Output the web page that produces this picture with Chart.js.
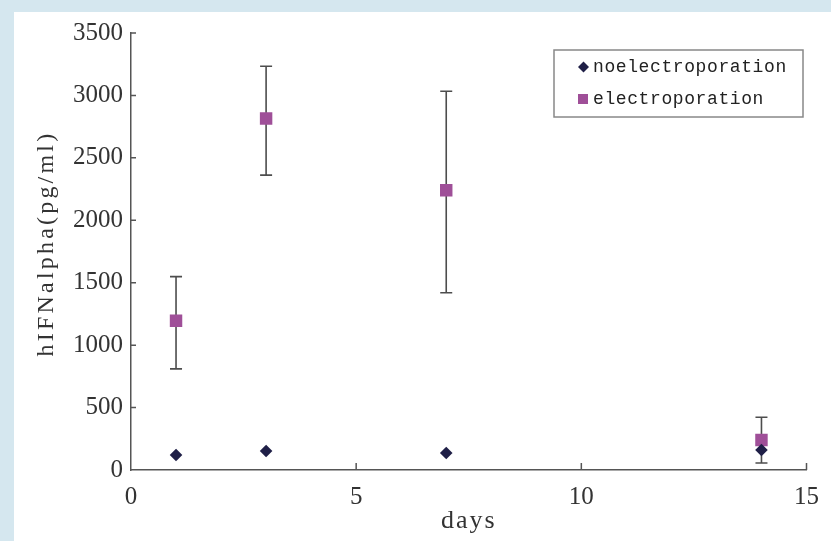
<!DOCTYPE html>
<html><head><meta charset="utf-8">
<script src="https://cdn.jsdelivr.net/npm/chart.js@4/dist/chart.umd.min.js"></script>
<style>
html,body{margin:0;padding:0;background:#d5e7ef;}
#wrap{position:relative;width:831px;height:541px;background:#d5e7ef;overflow:hidden;}
#inner{position:absolute;left:14px;top:12px;right:0;bottom:0;background:#fff;}
canvas{position:absolute;left:0;top:0;}
</style></head><body>
<div id="wrap"><div id="inner"></div><canvas id="c" width="831" height="541"></canvas></div>
<script>
// ---- data ----
const days = [1, 3, 7, 14];
const noElectro = [120, 152, 136, 160];
const electro = [1195, 2815, 2240, 240];
const electroLow = [810, 2362, 1420, 56];
const electroHigh = [1549, 3234, 3034, 422];
const seriesNames = ['noelectroporation', 'electroporation'];
const yTickValues = [0, 500, 1000, 1500, 2000, 2500, 3000, 3500];
const xTickValues = [0, 5, 10, 15];
const xTitle = 'days';
const yTitle = 'hIFNalpha(pg/ml)';

const AXIS = '#555555';
const TXT = '#333333';
const NAVY = '#1f1f47';
const PURPLE = '#9f4f98';

const errorBars = {
  id: 'errorBars',
  beforeDatasetsDraw(chart) {
    const {ctx, scales: {x, y}} = chart;
    ctx.save();
    ctx.strokeStyle = '#4d4d4d';
    ctx.lineWidth = 1.6;
    days.forEach((d, i) => {
      const px = x.getPixelForValue(d);
      const lo = y.getPixelForValue(electroLow[i]);
      const hi = y.getPixelForValue(electroHigh[i]);
      ctx.beginPath();
      ctx.moveTo(px, lo); ctx.lineTo(px, hi);
      ctx.moveTo(px - 6, lo); ctx.lineTo(px + 6, lo);
      ctx.moveTo(px - 6, hi); ctx.lineTo(px + 6, hi);
      ctx.stroke();
    });
    ctx.restore();
  }
};

const inwardTicks = {
  id: 'inwardTicks',
  afterDraw(chart) {
    const {ctx, scales: {x, y}, chartArea: a} = chart;
    ctx.save();
    ctx.strokeStyle = AXIS;
    ctx.lineWidth = 1.5;
    ctx.beginPath();
    yTickValues.forEach(v => {
      if (v === 0) return;
      const py = y.getPixelForValue(v);
      ctx.moveTo(a.left, py); ctx.lineTo(a.left + 5, py);
    });
    xTickValues.forEach(v => {
      if (v === 0) return;
      const px = x.getPixelForValue(v);
      ctx.moveTo(px, a.bottom); ctx.lineTo(px, a.bottom - 7);
    });
    ctx.stroke();
    ctx.restore();
  }
};

const spacedTitles = {
  id: 'spacedTitles',
  beforeDraw(chart) {
    const patch = (scale, sp, dy) => {
      if (scale._spPatched) return;
      const orig = scale.drawTitle.bind(scale);
      scale.drawTitle = function () {
        const ctx = this.ctx;
        ctx.save(); ctx.letterSpacing = sp; ctx.translate(0, dy); orig(); ctx.restore();
      };
      scale._spPatched = true;
    };
    patch(chart.scales.y, '3.2px', -8);
    patch(chart.scales.x, '2px', 0);
  }
};

const boxLegend = {
  id: 'boxLegend',
  afterDraw(chart) {
    const ctx = chart.ctx;
    const bx = 554, by = 50, bw = 249, bh = 67;
    ctx.save();
    ctx.fillStyle = '#ffffff';
    ctx.fillRect(bx, by, bw, bh);
    ctx.strokeStyle = '#888888';
    ctx.lineWidth = 1.5;
    ctx.strokeRect(bx, by, bw, bh);
    const rows = [67, 99];
    chart.data.datasets.forEach((ds, i) => {
      const cy = rows[i];
      ctx.fillStyle = ds.backgroundColor;
      ctx.beginPath();
      if (ds.pointStyle === 'rectRot') {
        const r = 5.5, cx = 583.5;
        ctx.moveTo(cx, cy - r); ctx.lineTo(cx + r, cy); ctx.lineTo(cx, cy + r); ctx.lineTo(cx - r, cy); ctx.closePath();
      } else {
        ctx.rect(578, cy - 5, 10, 10);
      }
      ctx.fill();
      ctx.fillStyle = '#222';
      ctx.font = '18px "Liberation Mono", monospace';
      ctx.letterSpacing = '0.6px';
      ctx.textBaseline = 'middle';
      ctx.textAlign = 'left';
      ctx.fillText(ds.label, 593, cy);
    });
    ctx.restore();
  }
};

new Chart(document.getElementById('c'), {
  type: 'scatter',
  data: {
    datasets: [
      {
        label: seriesNames[0],
        data: days.map((d, i) => ({x: d, y: noElectro[i]})),
        pointStyle: 'rectRot',
        pointRadius: 6.3,
        pointHoverRadius: 6.3,
        backgroundColor: NAVY,
        borderColor: NAVY,
        borderWidth: 0
      },
      {
        label: seriesNames[1],
        data: days.map((d, i) => ({x: d, y: electro[i]})),
        pointStyle: 'rect',
        pointRadius: 8.8,
        pointHoverRadius: 8.8,
        backgroundColor: PURPLE,
        borderColor: PURPLE,
        borderWidth: 0
      }
    ]
  },
  options: {
    responsive: false,
    animation: false,
    devicePixelRatio: 1,
    layout: {padding: {left: 0, top: 33, right: 13, bottom: 0}},
    plugins: {legend: {display: false}, tooltip: {enabled: false}},
    scales: {
      x: {
        type: 'linear', min: 0, max: 15,
        afterFit(s) { s.height = 71; },
        afterBuildTicks(s) { s.ticks = xTickValues.map(v => ({value: v})); },
        grid: {display: false, drawTicks: false},
        border: {display: true, color: AXIS, width: 1.5},
        ticks: {color: TXT, padding: 12, callback: v => String(v),
                font: {family: '"Liberation Serif", serif', size: 25}},
        title: {display: true, text: xTitle, color: TXT, padding: {top: 0, bottom: 4},
                font: {family: '"Liberation Serif", serif', size: 26}}
      },
      y: {
        type: 'linear', min: 0, max: 3500,
        afterFit(s) { s.width = 131; },
        afterBuildTicks(s) { s.ticks = yTickValues.map(v => ({value: v})); },
        grid: {display: false, drawTicks: false},
        border: {display: true, color: AXIS, width: 1.5},
        ticks: {color: TXT, padding: 8, callback: v => String(v),
                font: {family: '"Liberation Serif", serif', size: 25}},
        title: {display: true, text: yTitle, color: TXT, padding: {top: 32, bottom: 0},
                font: {family: '"Liberation Serif", serif', size: 24}}
      }
    }
  },
  plugins: [errorBars, inwardTicks, spacedTitles, boxLegend]
});
</script>
</body></html>
